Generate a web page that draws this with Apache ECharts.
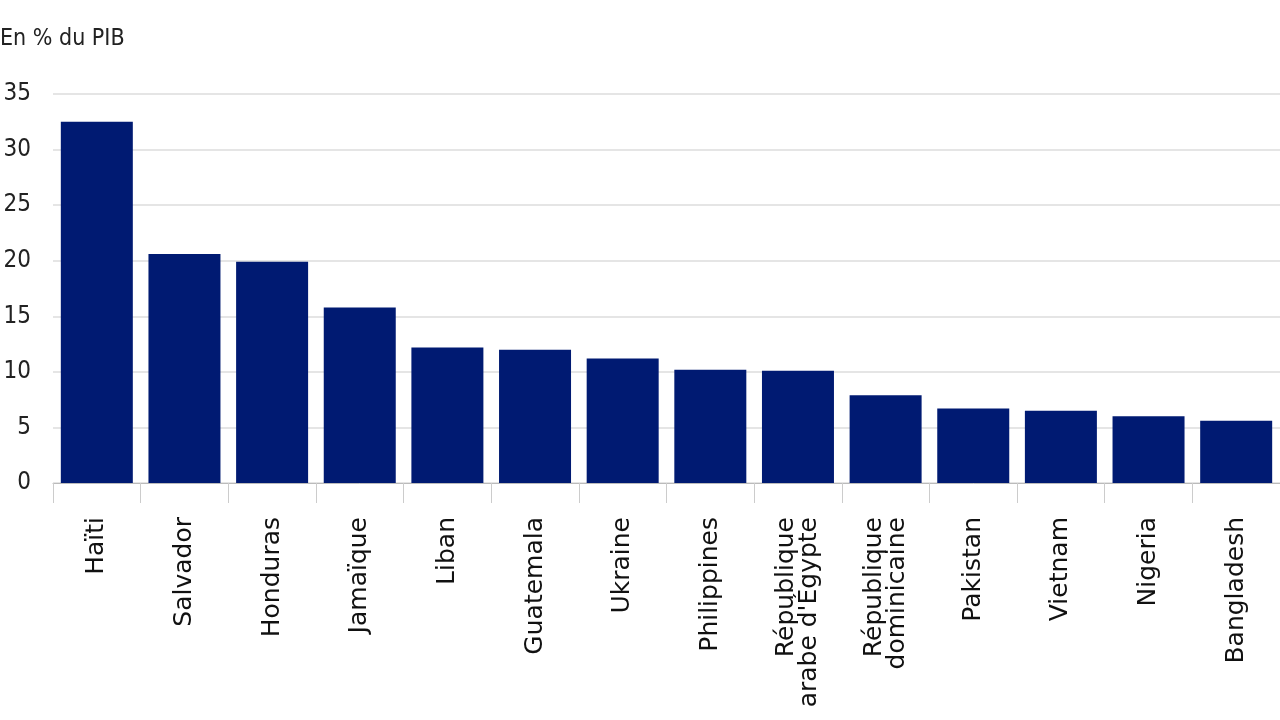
<!DOCTYPE html>
<html><head><meta charset="utf-8">
<script src="https://cdn.jsdelivr.net/npm/echarts@6/dist/echarts.min.js"></script>
<style>html,body{margin:0;padding:0;background:#fff}#c{width:1280px;height:720px}</style>
</head><body><div id="c"></div>
<script>
const categories = ["Haïti","Salvador","Honduras","Jamaïque","Liban","Guatemala","Ukraine","Philippines","République\narabe d'Égypte","République\ndominicaine","Pakistan","Vietnam","Nigeria","Bangladesh"];
const values = [32.5,20.6,19.9,15.8,12.2,12.0,11.2,10.2,10.1,7.9,6.7,6.5,6.0,5.6];
const yTicks = {min:0,max:35,interval:5};
const chart = echarts.init(document.getElementById('c'));
chart.setOption({
  animation:false,
  graphic:[{type:'text',left:0,top:28,style:{text:'En % du PIB',font:'23px "DejaVu Sans Condensed", "Liberation Sans Narrow", sans-serif',fill:'#222'}}],
  grid:{left:53,right:-1,top:94,bottom:237,containLabel:false},
  xAxis:{type:'category',data:categories,
    axisLine:{lineStyle:{color:'#bbb'}},
    axisTick:{show:true,alignWithLabel:false,length:20,lineStyle:{color:'#ccc'}},
    axisLabel:{rotate:90,interval:0,margin:34,fontSize:25,color:'#111',fontFamily:'DejaVu Sans',lineHeight:23,align:'right',verticalAlign:'middle'}},
  yAxis:{type:'value',min:yTicks.min,max:yTicks.max,interval:yTicks.interval,
    axisLabel:{fontSize:24,color:'#222',margin:22,fontFamily:'"DejaVu Sans Condensed", sans-serif'},
    splitLine:{lineStyle:{color:'#ddd',width:1.5}},axisLine:{show:false},axisTick:{show:false}},
  series:[{type:'bar',data:values,barWidth:72,itemStyle:{color:'#001a72'}}]
});
</script></body></html>
